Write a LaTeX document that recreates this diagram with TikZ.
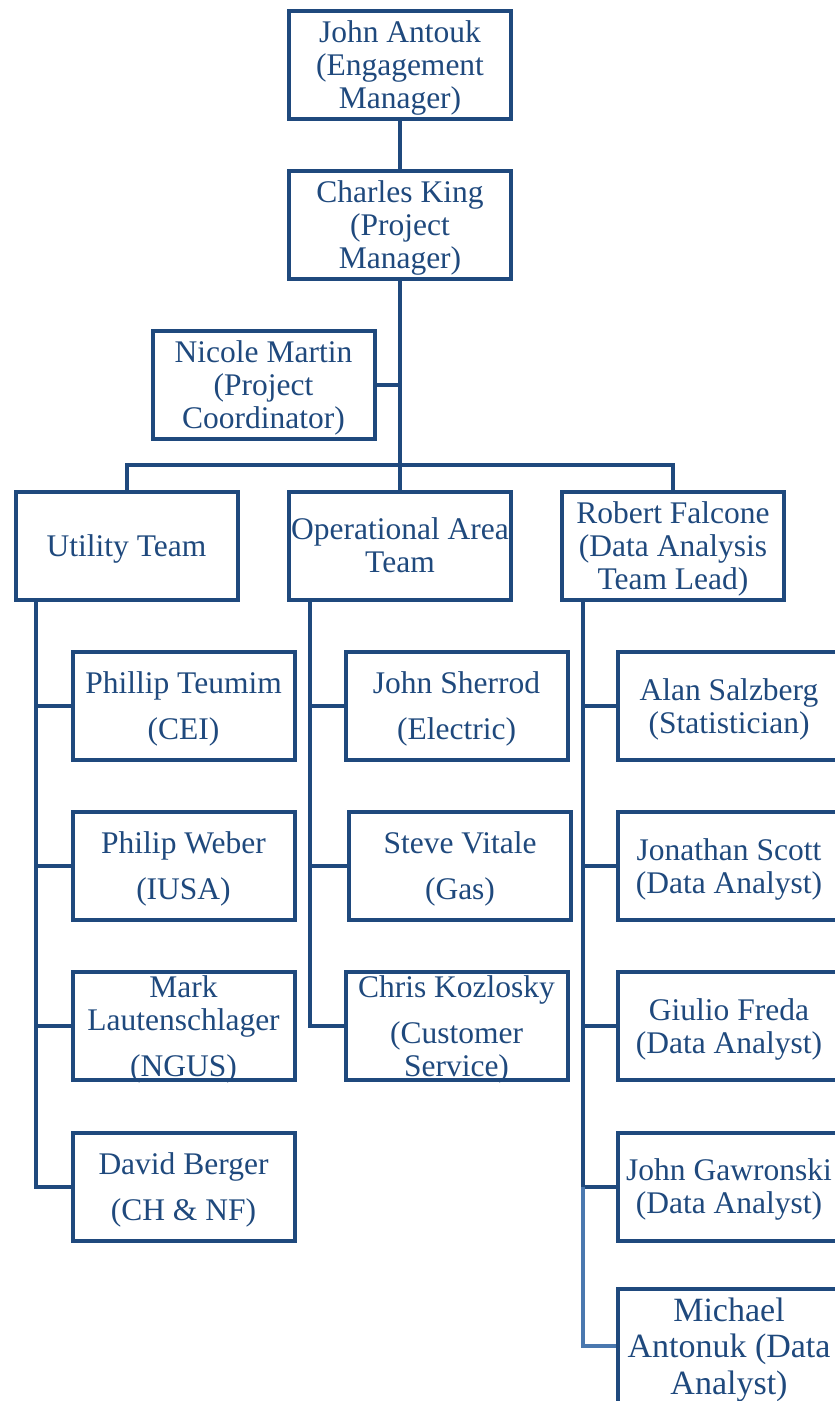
\documentclass[tikz,border=0pt]{standalone}
\usepackage{fontspec}
\setmainfont{Liberation Serif}
\usepackage{tikz}
\usetikzlibrary{positioning,calc}
\definecolor{orgblue}{RGB}{31,73,125}
\definecolor{orglight}{RGB}{74,120,175}

\begin{document}
\begin{tikzpicture}[x=1pt, y=-1pt,
    box/.style={rectangle, draw=orgblue, line width=4pt, minimum width=222pt, minimum height=108pt, inner sep=0pt, text depth=0pt, align=center, text=orgblue, font=\fontsize{31.5}{33}\selectfont},
    bigbox/.style={box, minimum height=114pt, font=\fontsize{34}{36.5}\selectfont},
    link/.style={draw=orgblue, line width=4pt},
    lightlink/.style={draw=orglight, line width=4pt}
]
\useasboundingbox (0,0) rectangle (835,1401);

% Management
\node[box] (antouk) at (400, 65) {John Antouk\\(Engagement\\Manager)};
\node[box] (king) at (400, 225) {Charles King\\(Project\\Manager)};
\node[box] (martin) at (263.5, 385) {Nicole Martin\\(Project\\Coordinator)};

\draw[link] (antouk) -- (king);
\coordinate (bar) at (400, 465);
\draw[link] (king) -- (bar);
\draw[link] (martin.east) -- (martin.east -| king.south);

% Teams
\node[box] (utility) at (126.5, 545.5) {Utility Team};
\node[box] (opteam) at (400, 545.5) {Operational Area\\Team};
\node[box] (falcone) at (673, 545.5) {Robert Falcone\\(Data Analysis\\Team Lead)};

\draw[link] (utility.north) |- (bar) -| (falcone.north);
\draw[link] (bar) -- (opteam.north);

% Utility team members
\node[box] (teumim) at (183.5, 706) {Phillip Teumim\\[13pt](CEI)};
\node[box] (weber) at (183.5, 866) {Philip Weber\\[13pt](IUSA)};
\node[box] (lauten) at (183.5, 1026) {Mark\\Lautenschlager\\[13pt](NGUS)};
\node[box] (berger) at (183.5, 1186.5) {David Berger\\[13pt](CH \& NF)};

\coordinate (utrunk) at (36, 602);
\foreach \n in {teumim, weber, lauten, berger}
    \draw[link] (utrunk) |- (\n.west);

% Operational area members
\node[box] (sherrod) at (456.5, 706) {John Sherrod\\[13pt](Electric)};
\node[box] (vitale) at (460, 866) {Steve Vitale\\[13pt](Gas)};
\node[box] (kozlosky) at (456.5, 1026) {Chris Kozlosky\\[13pt](Customer\\Service)};

\coordinate (otrunk) at (310, 602);
\foreach \n in {sherrod, vitale, kozlosky}
    \draw[link] (otrunk) |- (\n.west);

% Data analysis members
\node[box] (salzberg) at (729, 706) {Alan Salzberg\\(Statistician)};
\node[box] (scott) at (729, 866) {Jonathan Scott\\(Data Analyst)};
\node[box] (freda) at (729, 1026) {Giulio Freda\\(Data Analyst)};
\node[box] (gawronski) at (729, 1186.5) {John Gawronski\\(Data Analyst)};
\node[bigbox] (antonuk) at (729, 1346) {Michael\\Antonuk (Data\\Analyst)};

\coordinate (ftrunk) at (583, 602);
\foreach \n in {salzberg, scott, freda, gawronski}
    \draw[link] (ftrunk) |- (\n.west);
\draw[lightlink] (gawronski.west -| ftrunk) |- (antonuk.west);

\end{tikzpicture}
\end{document}
